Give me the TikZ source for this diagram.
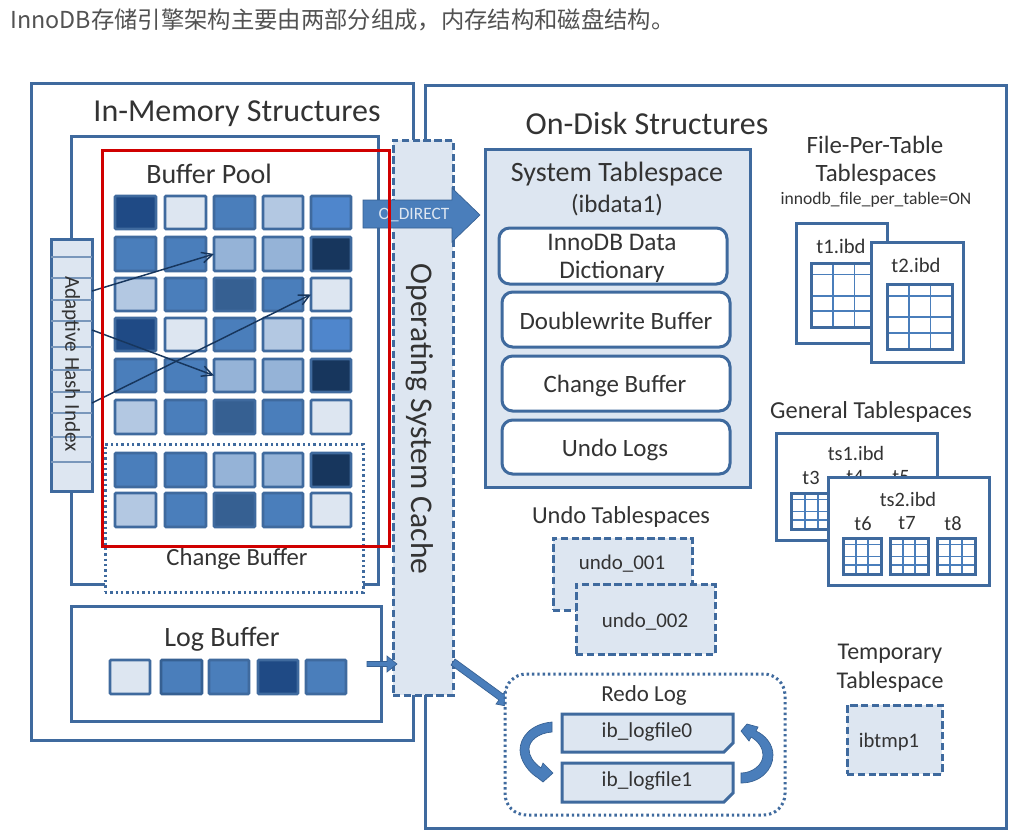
\documentclass[tikz,border=0pt]{standalone}
\usepackage{fontspec}
\setmainfont{Carlito}
\newfontfamily\cjkf{Noto Sans CJK SC}
\usetikzlibrary{arrows.meta}
\definecolor{bd}{HTML}{3F6A9E}
\definecolor{dk}{HTML}{1F4A85}
\definecolor{lt}{HTML}{DDE6F1}
\definecolor{md}{HTML}{4A7EBB}
\definecolor{pl}{HTML}{B3C8E2}
\definecolor{br}{HTML}{4F86CC}
\definecolor{nv}{HTML}{17365D}
\definecolor{mp}{HTML}{95B3D7}
\definecolor{dm}{HTML}{366092}
\definecolor{txt}{HTML}{333333}
\definecolor{redb}{HTML}{D00000}
\tikzset{
 x=.75pt,y=-.75pt,
 frame/.style={draw=bd,line width=2.25pt,fill=white},
 cellb/.style={draw=bd,line width=2pt,rounded corners=.8pt},
 dashb/.style={draw=bd,line width=2.25pt,fill=lt,dash pattern=on 5.5pt off 2.6pt},
 dotb/.style={draw=bd,line width=2.25pt,dash pattern=on 1.8pt off 2.2pt,fill=white},
 solb/.style={draw=bd,line width=2.25pt,fill=lt},
 roundb/.style={draw=bd,line width=2.25pt,fill=white,rounded corners=8pt},
 gridline/.style={draw=md,line width=1.3pt},
 hasharrow/.style={draw=nv,line width=1.1pt,-{Straight Barb[length=8pt,width=8pt]}},
 blockarrow/.style={fill=md,draw=dm,line width=.5pt},
}
\newcommand\bx[6]{\node[#6,inner sep=0pt,outer sep=0pt,minimum width={(#4-#2)*.75pt},minimum height={(#5-#3)*.75pt}] (#1) at ({(#2+#4)/2},{(#3+#5)/2}) {};}
\newcommand\lbl[5]{\node[text=txt,inner sep=0pt,anchor=center] (#1) at (#2,#3+1.5) {\fontsize{#4}{#4}\selectfont #5};}
\newcommand\tbl[5]{%
 \bx{#1}{#2}{#3}{#4}{#5}{draw=bd,line width=2.25pt,fill=white}
 \foreach \f in {.18,.51,.75}{\draw[gridline] (#2,{#3+\f*(#5-#3)}) -- (#4,{#3+\f*(#5-#3)});}
 \foreach \f in {.333,.667}{\draw[gridline] ({#2+\f*(#4-#2)},#3) -- ({#2+\f*(#4-#2)},#5);}
 \draw[draw=bd,line width=2.25pt] (#1.south west) rectangle (#1.north east);
}
\newcommand\pg[5]{% name x1 y1 x2 y2
 \draw[solb] (#2,#3) -- (#4,#3) -- (#4,#5-9) -- (#4-9,#5) -- (#2,#5) -- cycle;
 \coordinate (#1) at ({(#2+#4)/2},{(#3+#5)/2});
}
\begin{document}
\begin{tikzpicture}
\useasboundingbox (0,0) rectangle (1016,839);
\fill[white] (0,0) rectangle (1016,839);
\node[text=txt!85,inner sep=0pt,anchor=west] (title) at (10,20) {\fontsize{17.5}{17.5}\selectfont\cjkf InnoDB存储引擎架构主要由两部分组成，内存结构和磁盘结构。};

% In-memory
\bx{mem}{31}{83}{413}{740}{frame}
\lbl{memt}{237}{112}{24}{In-Memory Structures}
\bx{bp}{71}{136}{378}{584}{frame}
\bx{cb}{105}{444}{363}{592}{dotb}
\lbl{bpt}{209}{172}{21}{Buffer Pool}
\lbl{cbt}{237}{558}{18.5}{Change Buffer}

% cells
\def\cxa{{115,165,214,263,311}}
\def\cxb{{156,206,255,303,351}}
\def\rya{{196,237,278,318,359,400,453,493}}
\def\ryb{{229,271,311,351,392,434,487,527}}
\newcommand\rowcells[6]{%
 \foreach \c/\col in {0/#2,1/#3,2/#4,3/#5,4/#6}{%
  \pgfmathsetmacro\xa{\cxa[\c]}\pgfmathsetmacro\xb{\cxb[\c]}%
  \pgfmathsetmacro\ya{\rya[#1]}\pgfmathsetmacro\yb{\ryb[#1]}%
  \pgfmathtruncatemacro\cc{\c}%
  \bx{c#1-\cc}{\xa}{\ya}{\xb}{\yb}{cellb,fill=\col}
 }}
\rowcells{0}{dk}{lt}{md}{pl}{br}
\rowcells{1}{md}{md}{mp}{mp}{nv}
\rowcells{2}{pl}{md}{dm}{md}{lt}
\rowcells{3}{dk}{lt}{md}{pl}{br}
\rowcells{4}{md}{md}{mp}{mp}{nv}
\rowcells{5}{pl}{md}{dm}{md}{lt}
\rowcells{6}{md}{md}{mp}{mp}{nv}
\rowcells{7}{pl}{md}{dm}{md}{lt}

% adaptive hash index
\bx{ahi}{51}{239}{92}{491}{frame,fill=lt}
\foreach \yy in {257,278,300,321,347,370,392,413,437,462}{\draw[draw=bd!70,line width=.8pt] (51,\yy) -- (92,\yy);}
\node[text=txt,inner sep=0pt,rotate=-90] (ahit) at (71,364) {\fontsize{15.9}{15.9}\selectfont Adaptive Hash Index};
\coordinate (h1) at (92,291);
\coordinate (h2) at (92,330);
\coordinate (h3) at (92,403);
\draw[hasharrow] (h1) -- (c1-2.west);
\draw[hasharrow] (h2) -- (c4-2.west);
\draw[hasharrow] (h3) -- (c2-4.west);

% log buffer
\bx{lb}{71}{606}{381}{721}{frame}
\lbl{lbt}{222}{638}{21}{Log Buffer}
\bx{l0}{110}{660}{150}{694}{cellb,fill=lt}
\bx{l1}{161}{660}{202}{694}{cellb,fill=md,draw=dm}
\bx{l2}{209}{660}{249}{694}{cellb,fill=md}
\bx{l3}{258}{660}{298}{694}{cellb,fill=dk}
\bx{l4}{306}{660}{346}{694}{cellb,fill=md}

% on-disk
\bx{disk}{425}{85}{1006}{828}{frame}
\lbl{diskt}{647}{122}{24}{On-Disk Structures}

% OS cache
\bx{os}{393}{140}{453}{695}{dashb}
\node[text=txt,inner sep=0pt,rotate=-90] (ost) at (420,419) {\fontsize{23.7}{23.7}\selectfont Operating System Cache};

% O_DIRECT block arrow
\draw[blockarrow] (363,200) -- (452,200) -- (452,188) -- (480,215) -- (452,242) -- (452,228) -- (363,228) -- cycle;
\node[text=lt,inner sep=0pt] (odt) at (414,215) {\fontsize{13}{13}\selectfont O\_DIRECT};

% log -> OS arrow, OS -> redo arrow
\draw[blockarrow] (367,661.5) -- (387,661.5) -- (387,656) -- (397,664) -- (387,672) -- (387,666.5) -- (367,666.5) -- cycle;
\draw[blockarrow] (455,659) -- (503,694) -- (506,690) -- (516,708) -- (496,704) -- (499,700) -- (451,665) -- cycle;

% system tablespace
\bx{sys}{485}{149}{750}{487}{solb}
\lbl{syst}{617}{173}{21}{System Tablespace}
\lbl{sysb}{617}{204}{18.8}{(ibdata1)}
\bx{dd}{499}{228}{727}{284}{roundb}
\lbl{ddt}{612}{241}{19}{InnoDB Data}
\lbl{ddb}{612}{270}{19}{Dictionary}
\bx{dw}{502}{292}{730}{347}{roundb}
\lbl{dwt}{616}{319}{18.7}{Doublewrite Buffer}
\bx{chb}{502}{356}{730}{411}{roundb}
\lbl{chbt}{615}{384}{18.7}{Change Buffer}
\bx{ul}{502}{420}{730}{474}{roundb}
\lbl{ult}{615}{448}{18.7}{Undo Logs}

% file-per-table
\lbl{fp1}{875}{143}{18.7}{File-Per-Table}
\lbl{fp2}{876}{173}{18.7}{Tablespaces}
\lbl{fp3}{876}{198}{13.2}{innodb\_file\_per\_table=ON}
\bx{t1f}{796}{223}{887}{343}{frame}
\lbl{t1t}{841}{245}{15.5}{t1.ibd}
\tbl{t1g}{811}{263}{876}{327}
\bx{t2f}{871}{242}{963}{362}{frame}
\lbl{t2t}{916}{264}{15.5}{t2.ibd}
\tbl{t2g}{887}{284}{952}{349}

% general
\lbl{gen}{871}{410}{18.3}{General Tablespaces}
\bx{ts1}{776}{433}{937}{540}{frame}
\lbl{ts1t}{856}{452}{15.3}{ts1.ibd}
\lbl{t3t}{811}{476}{15.3}{t3}
\lbl{t4t}{855}{476}{15.3}{t4}
\lbl{t5t}{901}{476}{15.3}{t5}
\tbl{t3g}{791}{493}{832}{529}
\bx{ts2}{828}{477}{989}{585}{frame}
\lbl{ts2t}{908}{498}{15.3}{ts2.ibd}
\lbl{t6t}{863}{522}{15.3}{t6}
\lbl{t7t}{907}{522}{15.3}{t7}
\lbl{t8t}{953}{522}{15.3}{t8}
\tbl{t6g}{843}{538}{881}{574}
\tbl{t7g}{890}{538}{928}{574}
\tbl{t8g}{937}{538}{975}{574}

% undo
\lbl{und}{621}{515}{18.3}{Undo Tablespaces}
\bx{u1}{553}{538}{692}{610}{dashb}
\lbl{u1t}{622}{562}{15.7}{undo\_001}
\bx{u2}{576}{584}{715}{654}{dashb}
\lbl{u2t}{645}{620}{15.7}{undo\_002}

% redo
\bx{redo}{505}{674}{785}{815}{dotb,rounded corners=16pt}
\lbl{redot}{644}{694}{17.2}{Redo Log}
\pg{p0}{562}{714}{733}{752}
\lbl{p0t}{647}{730}{16}{ib\_logfile0}
\pg{p1}{562}{763}{733}{802}
\lbl{p1t}{647}{779}{16}{ib\_logfile1}
\fill[md,draw=dm,line width=.5pt] (552,722) .. controls (530,724) and (520,738) .. (520,750) .. controls (520,760) and (528,772) .. (538,778) -- (543,782) -- (553,773) -- (543,763) -- (541,768) .. controls (533,762) and (529,756) .. (529,749) .. controls (529,741) and (538,733) .. (552,732) -- cycle;
\fill[md,draw=dm,line width=.5pt] (741,783) .. controls (760,783) and (773,770) .. (773,755) .. controls (773,744) and (765,735) .. (756,731) -- (758,727) -- (747,724) -- (741,731) -- (749,741) -- (751,737) .. controls (758,741) and (763,748) .. (763,755) .. controls (763,765) and (752,773) .. (741,773) -- cycle;

% temporary
\lbl{tmp1}{890}{652}{18}{Temporary}
\lbl{tmp2}{890}{681}{18}{Tablespace}
\bx{tmp}{847}{705}{942}{774}{dashb}
\lbl{tmpt}{889}{740}{15.5}{ibtmp1}

% red highlight
\bx{red}{102}{150}{389}{546}{draw=redb,line width=2.25pt}
\end{tikzpicture}
\end{document}
